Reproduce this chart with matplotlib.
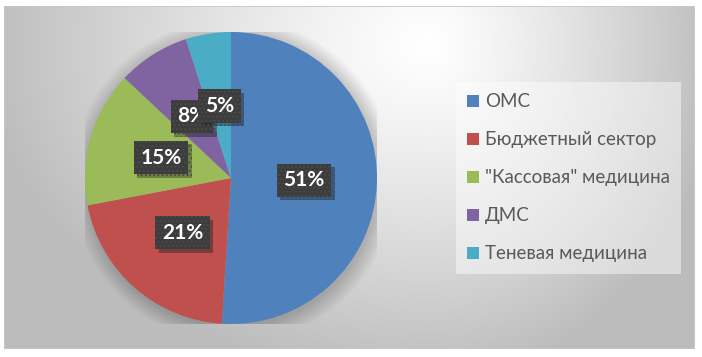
import numpy as np
import matplotlib.pyplot as plt
import matplotlib.patheffects as pe
from matplotlib.patches import Patch, Circle, Rectangle

# data
categories = ['ОМС', 'Бюджетный сектор', '"Кассовая" медицина', 'ДМС', 'Теневая медицина']
shares = [51, 21, 15, 8, 5]
colors = ['#4F81BD', '#C0504D', '#9BBB59', '#8064A2', '#4BACC6']

W, H = 702, 357
plt.rcParams['font.family'] = ['Lato', 'DejaVu Sans']

fig = plt.figure(figsize=(W / 100, H / 100), dpi=100)
fig.patch.set_facecolor('white')

# chart area background: soft radial gradient, white near top-right of pie
x0, y0, x1, y1 = 4, 6, 695, 349
bg = fig.add_axes([x0 / W, 1 - y1 / H, (x1 - x0) / W, (y1 - y0) / H])
xx, yy = np.meshgrid(np.arange(x0, x1), np.arange(y0, y1))
dx = xx - 430.0
dy = yy - 45.0
sx = np.where(dx < 0, 410.0, 265.0)
d = np.sqrt((dx / sx) ** 2 + (dy / 305.0) ** 2)
val = 255 - 60 * np.clip(d, 0, 1.15) ** 1.2
val = np.clip(val, 188, 255) / 255.0
bg.imshow(np.dstack([val, val, val]), aspect='auto', interpolation='bilinear')
bg.set_axis_off()
bg.add_patch(Rectangle((0, 0), 1, 1, transform=bg.transAxes, fill=False,
                       edgecolor='#c8c8c8', linewidth=1.2))

# pie
cx, cy, r = 231, 178, 146
ax = fig.add_axes([(cx - r) / W, (H - cy - r) / H, 2 * r / W, 2 * r / H])
ax.set_axis_off()

# soft shadow around pie
for i in range(10):
    ax.add_patch(Circle((0.015, -0.02), 1.0 + 0.012 * i, color='black',
                        alpha=0.018, zorder=0, linewidth=0))

wedges, texts, autotexts = ax.pie(
    shares, colors=colors, startangle=90, counterclock=False,
    autopct='%d%%', pctdistance=0.5, radius=1,
    wedgeprops=dict(linewidth=0),
    textprops=dict(color='white', fontsize=15, fontweight='bold'))
ax.set_xlim(-1, 1)
ax.set_ylim(-1, 1)

# dark label boxes with a drop shadow
for t in autotexts:
    t.set_bbox(dict(boxstyle='square,pad=0.32', facecolor='#3c3c3c',
                    edgecolor='#4a4a4a', linewidth=0, hatch='....'))
    t.get_bbox_patch().set_path_effects([
        pe.SimplePatchShadow(offset=(2.5, -2.5), shadow_rgbFace='black', alpha=0.3),
        pe.Normal()])

# legend
handles = [Patch(facecolor=c, edgecolor='none') for c in colors]
leg = fig.legend(handles, categories, loc='upper left',
                 bbox_to_anchor=(456 / W, 1 - 82 / H),
                 frameon=True, fancybox=False, fontsize=13.5,
                 handlelength=0.6, handleheight=0.6, handletextpad=0.35,
                 labelspacing=1.12, borderpad=0.6, borderaxespad=0)
leg.get_frame().set_facecolor('white')
leg.get_frame().set_alpha(0.45)
leg.get_frame().set_linewidth(0)
for txt in leg.get_texts():
    txt.set_color('#595959')

fig.savefig('out.png', dpi=100)
